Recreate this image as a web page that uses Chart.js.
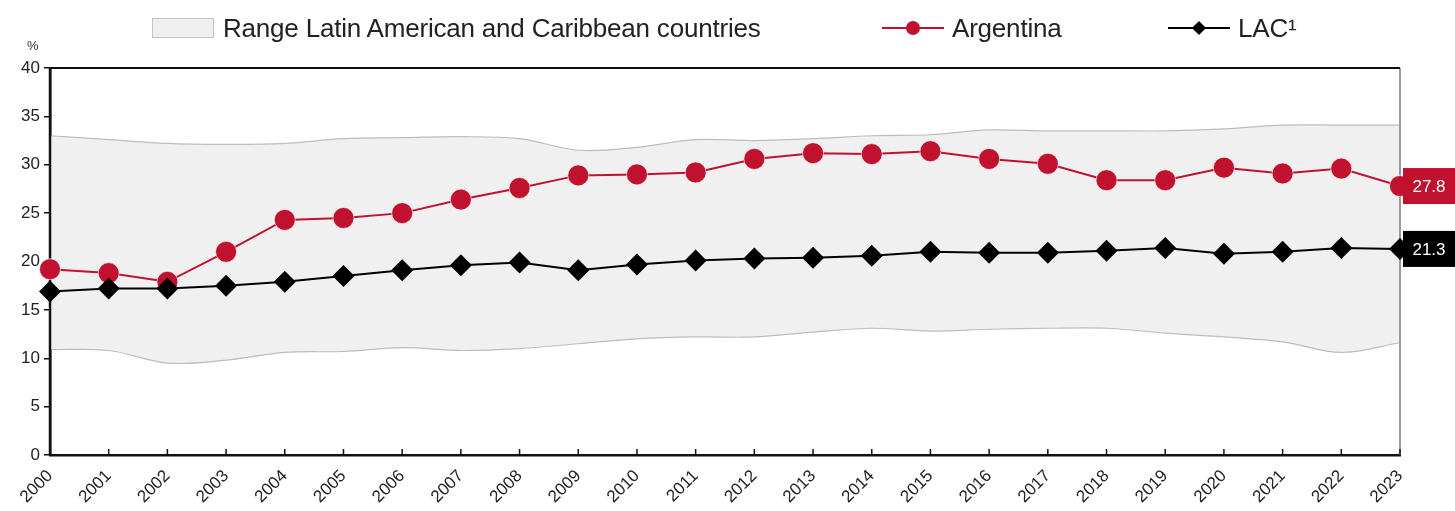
<!DOCTYPE html>
<html>
<head>
<meta charset="utf-8">
<script src="https://cdn.jsdelivr.net/npm/chart.js@4/dist/chart.umd.min.js"></script>
<style>
    html, body { margin: 0; padding: 0; background: #fff; }
    #wrap { position: relative; width: 1455px; height: 511px; font-family: 'Liberation Sans Narrow', 'Liberation Sans', Arial, sans-serif; }
    #chart { position: absolute; left: 0; top: 0; }
    .leg { position: absolute; top: 12px; height: 32px; display: flex; align-items: center; font-size: 26px; color: #222; letter-spacing: -0.2px; }
    .swatch { width: 60px; height: 18px; background: #efefef; border: 1px solid #c4c4c4; margin-right: 9px; }
    .mk { position: relative; width: 62px; height: 20px; margin-right: 8px; }
    .mk .ln { position: absolute; left: 0; right: 0; top: 9px; height: 2px; }
    .mk .dot { position: absolute; left: 24px; top: 3px; width: 14px; height: 14px; border-radius: 50%; background: #c0122f; }
    .mk .dia { position: absolute; left: 26px; top: 5px; width: 10px; height: 10px; background: #000; transform: rotate(45deg); }
    .pct { position: absolute; left: 27px; top: 38px; font-size: 13px; color: #333; }
</style>
</head>
<body>
<div id="wrap">
    <canvas id="chart" width="1455" height="511"></canvas>
    <div class="leg" style="left:152px"><div class="swatch"></div><span>Range Latin American and Caribbean countries</span></div>
    <div class="leg" style="left:882px"><div class="mk"><div class="ln" style="background:#c0122f"></div><div class="dot"></div></div><span>Argentina</span></div>
    <div class="leg" style="left:1168px"><div class="mk"><div class="ln" style="background:#000"></div><div class="dia"></div></div><span>LAC¹</span></div>
    <div class="pct">%</div>
</div>
<script>
const years = ['2000', '2001', '2002', '2003', '2004', '2005', '2006', '2007', '2008', '2009', '2010', '2011',
    '2012', '2013', '2014', '2015', '2016', '2017', '2018', '2019', '2020', '2021', '2022', '2023'];
const argentina = [19.2, 18.8, 17.9, 21.0, 24.3, 24.5, 25.0, 26.4, 27.6, 28.9, 29.0, 29.2,
    30.6, 31.2, 31.1, 31.4, 30.6, 30.1, 28.4, 28.4, 29.7, 29.1, 29.6, 27.8];
const lac = [16.9, 17.2, 17.2, 17.5, 17.9, 18.5, 19.1, 19.6, 19.9, 19.1, 19.7, 20.1,
    20.3, 20.4, 20.6, 21.0, 20.9, 20.9, 21.1, 21.4, 20.8, 21.0, 21.4, 21.3];
const rangeHigh = [33.0, 32.6, 32.2, 32.1, 32.2, 32.7, 32.8, 32.9, 32.7, 31.5, 31.8, 32.6,
    32.5, 32.7, 33.0, 33.1, 33.6, 33.5, 33.5, 33.5, 33.7, 34.1, 34.1, 34.1];
const rangeLow = [10.9, 10.8, 9.5, 9.8, 10.6, 10.7, 11.1, 10.8, 11.0, 11.5, 12.0, 12.2,
    12.2, 12.7, 13.1, 12.8, 13.0, 13.1, 13.1, 12.6, 12.2, 11.7, 10.6, 11.6];
const yTicks = [0, 5, 10, 15, 20, 25, 30, 35, 40];

const red = '#c0122f';
const font = "'Liberation Sans Narrow', 'Liberation Sans', Arial, sans-serif";

// frame lines (drawn over the band, under the series), inward x ticks, end-value boxes
const extras = {
    id: 'extras',
    beforeDatasetDraw(chart, args) {
        if (args.index !== 1) {
            return;
        }
        const { ctx, chartArea: a, scales } = chart;
        ctx.save();
        ctx.lineWidth = 2;
        ctx.strokeStyle = '#9a9a9a';
        ctx.beginPath();
        ctx.moveTo(a.right, a.top);
        ctx.lineTo(a.right, a.bottom);
        ctx.stroke();
        ctx.strokeStyle = '#111';
        ctx.beginPath();
        ctx.moveTo(a.right, a.top);
        ctx.lineTo(a.left, a.top);
        ctx.stroke();
        ctx.lineWidth = 2.5;
        ctx.beginPath();
        ctx.moveTo(a.left, a.top);
        ctx.lineTo(a.left, a.bottom);
        ctx.stroke();
        ctx.lineWidth = 1.5;
        scales.x.ticks.forEach((t, i) => {
            const x = scales.x.getPixelForTick(i);
            ctx.beginPath();
            ctx.moveTo(x, a.bottom);
            ctx.lineTo(x, a.bottom - 6);
            ctx.stroke();
        });
        ctx.restore();
    },
    afterDatasetsDraw(chart) {
        const { ctx, chartArea: a, scales } = chart;
        const tags = [
            { v: argentina[argentina.length - 1], bg: red },
            { v: lac[lac.length - 1], bg: '#000' },
        ];
        ctx.save();
        ctx.font = '17px ' + font;
        ctx.textAlign = 'center';
        ctx.textBaseline = 'middle';
        tags.forEach((t) => {
            const y = scales.y.getPixelForValue(t.v);
            ctx.fillStyle = t.bg;
            ctx.fillRect(a.right + 3, y - 18, 52, 36);
            ctx.fillStyle = '#fff';
            ctx.fillText(t.v.toFixed(1), a.right + 29, y + 1);
        });
        ctx.restore();
    },
};

new Chart(document.getElementById('chart'), {
    type: 'line',
    data: {
        labels: years,
        datasets: [
            {
                label: 'LAC¹',
                data: lac,
                borderColor: '#000',
                borderWidth: 2,
                pointStyle: 'rectRot',
                pointRadius: 11,
                pointBackgroundColor: '#000',
                pointBorderWidth: 0,
                clip: false,
                order: 1,
            },
            {
                label: 'Argentina',
                data: argentina,
                borderColor: red,
                borderWidth: 2,
                pointRadius: 10.5,
                pointBackgroundColor: red,
                pointBorderColor: 'rgba(255,255,255,0.6)',
                pointBorderWidth: 1,
                clip: false,
                order: 2,
            },
            {
                label: 'low',
                data: rangeLow,
                borderColor: '#bdbdbd',
                borderWidth: 1.2,
                pointRadius: 0,
                tension: 0.35,
                fill: false,
                order: 3,
            },
            {
                label: 'Range Latin American and Caribbean countries',
                data: rangeHigh,
                borderColor: '#bdbdbd',
                borderWidth: 1.2,
                backgroundColor: '#f0f0f0',
                pointRadius: 0,
                tension: 0.35,
                fill: '-1',
                order: 4,
            },
        ],
    },
    options: {
        responsive: false,
        animation: false,
        layout: { padding: { top: 68, right: 55, left: 0, bottom: 0 } },
        plugins: {
            legend: { display: false },
            tooltip: { enabled: false },
        },
        scales: {
            x: {
                afterFit: (s) => { s.height = 56; },
                grid: { display: false },
                border: { color: '#111', width: 2.5 },
                ticks: {
                    minRotation: 45,
                    maxRotation: 45,
                    autoSkip: false,
                    color: '#222',
                    padding: 3,
                    font: { family: font, size: 17 },
                },
            },
            y: {
                min: 0,
                max: 40,
                afterFit: (s) => { s.width = 50; },
                afterBuildTicks: (s) => { s.ticks = yTicks.map((v) => ({ value: v })); },
                grid: { drawOnChartArea: false, drawTicks: true, tickLength: 6, color: '#111', lineWidth: 1.5 },
                border: { color: '#111', width: 2.5 },
                ticks: {
                    color: '#222',
                    padding: 4,
                    font: { family: font, size: 17 },
                },
            },
        },
    },
    plugins: [extras],
});
</script>
</body>
</html>
